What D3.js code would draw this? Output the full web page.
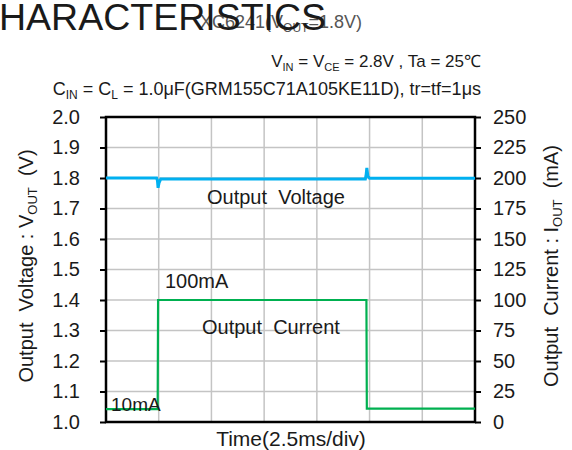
<!DOCTYPE html>
<html>
<head>
<meta charset="utf-8">
<style>
  body { margin: 0; background: #fff; }
  text { font-family: "Liberation Sans", Arial, sans-serif; fill: #1a1a1a; white-space: pre; }
</style>
<script src="https://d3js.org/d3.v7.min.js"></script>
</head>
<body>
<script>
// time in ms (2.5 ms/div, 7 div)
var voltTime = [0, 2.40, 2.44, 2.47, 2.52, 2.60, 12.30, 12.34, 12.37, 12.42, 12.50, 17.5];
var voltVal  = [1.800, 1.800, 1.792, 1.768, 1.785, 1.797, 1.797, 1.812, 1.833, 1.806, 1.799, 1.799];
var currTime = [0, 2.45, 2.47, 12.35, 12.37, 17.5];
var currVal  = [10.5, 10.5, 100, 100, 11, 11];
var voltTicks = [1.0, 1.1, 1.2, 1.3, 1.4, 1.5, 1.6, 1.7, 1.8, 1.9, 2.0];
var currTicks = [0, 25, 50, 75, 100, 125, 150, 175, 200, 225, 250];
var timeGrid = [0, 2.5, 5, 7.5, 10, 12.5, 15, 17.5];

var width = 572, height = 450;
var pLeft = 106, pRight = 475, pTop = 117, pBottom = 422;

var svg = d3.select("body").append("svg").attr("width", width).attr("height", height);

var x = d3.scaleLinear().domain([0, 17.5]).range([pLeft, pRight]);
var yV = d3.scaleLinear().domain([1.0, 2.0]).range([pBottom, pTop]);
var yI = d3.scaleLinear().domain([0, 250]).range([pBottom, pTop]);

// grid
svg.append("g").selectAll("line").data(voltTicks).enter().append("line")
  .attr("x1", pLeft).attr("x2", pRight)
  .attr("y1", function(d) { return yV(d); }).attr("y2", function(d) { return yV(d); })
  .attr("stroke", "#c4c4c4").attr("stroke-width", 1.5);
svg.append("g").selectAll("line").data(timeGrid).enter().append("line")
  .attr("x1", function(d) { return x(d); }).attr("x2", function(d) { return x(d); })
  .attr("y1", pTop).attr("y2", pBottom)
  .attr("stroke", "#c4c4c4").attr("stroke-width", 1.5);

// axes
var axL = svg.append("g").attr("transform", "translate(" + pLeft + ",0)")
  .call(d3.axisLeft(yV).tickValues(voltTicks).tickSize(6).tickFormat(d3.format(".1f")));
var axR = svg.append("g").attr("transform", "translate(" + pRight + ",0)")
  .call(d3.axisRight(yI).tickValues(currTicks).tickSize(6).tickFormat(d3.format("d")));
[axL, axR].forEach(function(a) {
  a.select(".domain").remove();
  a.selectAll("line").attr("stroke", "#000").attr("stroke-width", 2);
  a.selectAll("text").attr("font-size", 20).attr("fill", "#1a1a1a")
    .style("font-family", "'Liberation Sans', Arial, sans-serif");
});
axL.selectAll("text").attr("x", -26);
axR.selectAll("text").attr("x", 18);

svg.append("rect").attr("x", pLeft).attr("y", pTop)
  .attr("width", pRight - pLeft).attr("height", pBottom - pTop)
  .attr("fill", "none").attr("stroke", "#000").attr("stroke-width", 2.5);

// series
var voltLine = d3.line()
  .x(function(d, i) { return x(voltTime[i]); })
  .y(function(d) { return yV(d); });
var currLine = d3.line()
  .x(function(d, i) { return x(currTime[i]); })
  .y(function(d) { return yI(d); });

svg.append("path").attr("d", currLine(currVal))
  .attr("fill", "none").attr("stroke", "#00b050").attr("stroke-width", 2.2);
svg.append("path").attr("d", voltLine(voltVal))
  .attr("fill", "none").attr("stroke", "#00b0f0").attr("stroke-width", 3);

// annotations
function label(txt, px, py, size, anchor) {
  return svg.append("text").attr("x", px).attr("y", py)
    .attr("font-size", size).attr("text-anchor", anchor || "start").text(txt);
}
label("Output  Voltage", 207, 204, 20);
label("100mA", 165, 288, 20);
label("Output  Current", 202, 334, 20);
label("10mA", 111, 411, 19);
label("Time(2.5ms/div)", 291, 446, 21, "middle");

// titles
var sub = svg.append("text").attr("x", 362).attr("y", 28).attr("font-size", 18)
  .attr("text-anchor", "end").style("fill", "#555");
sub.append("tspan").text("XC6241(V");
sub.append("tspan").attr("font-size", 12).attr("dy", 4).text("OUT");
sub.append("tspan").attr("dy", -4).text("=1.8V)");

label("HARACTERISTICS", -1, 30, 37.5);

var c1 = svg.append("text").attr("x", 481).attr("y", 67).attr("font-size", 17).attr("text-anchor", "end");
c1.append("tspan").text("V");
c1.append("tspan").attr("font-size", 11).attr("dy", 4).text("IN");
c1.append("tspan").attr("dy", -4).text(" = V");
c1.append("tspan").attr("font-size", 11).attr("dy", 4).text("CE");
c1.append("tspan").attr("dy", -4).text(" = 2.8V , Ta = 25\u2103");

var c2 = svg.append("text").attr("x", 481).attr("y", 95).attr("font-size", 18).attr("text-anchor", "end");
c2.append("tspan").text("C");
c2.append("tspan").attr("font-size", 12).attr("dy", 4).text("IN");
c2.append("tspan").attr("dy", -4).text(" = C");
c2.append("tspan").attr("font-size", 12).attr("dy", 4).text("L");
c2.append("tspan").attr("dy", -4).text(" = 1.0\u03bcF(GRM155C71A105KE11D), tr=tf=1\u03bcs");

// axis titles
var yl = svg.append("text").attr("transform", "translate(33,266) rotate(-90)")
  .attr("font-size", 20).attr("text-anchor", "middle");
yl.append("tspan").text("Output  Voltage : V");
yl.append("tspan").attr("font-size", 13).attr("dy", 4).text("OUT");
yl.append("tspan").attr("dy", -4).text("  (V)");

var yr = svg.append("text").attr("transform", "translate(558,266) rotate(-90)")
  .attr("font-size", 20).attr("text-anchor", "middle");
yr.append("tspan").text("Output  Current : I");
yr.append("tspan").attr("font-size", 13).attr("dy", 4).text("OUT");
yr.append("tspan").attr("dy", -4).text("  (mA)");
</script>
</body>
</html>
